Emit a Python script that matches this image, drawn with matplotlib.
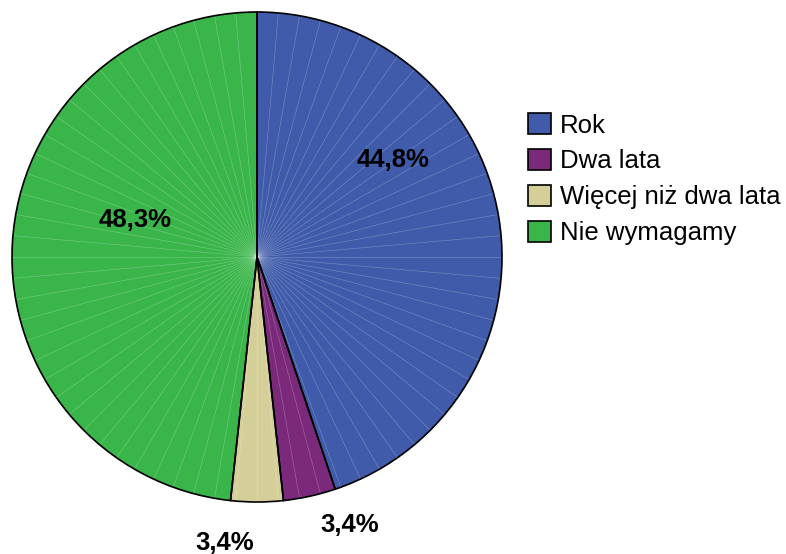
import numpy as np
import matplotlib
matplotlib.use("Agg")
import matplotlib.pyplot as plt
from matplotlib.patches import Patch

plt.rcParams['font.family'] = ['Liberation Sans', 'DejaVu Sans']

# dane
categories = ['Rok', 'Dwa lata', 'Więcej niż dwa lata', 'Nie wymagamy']
counts = [13, 1, 1, 14]
pct_labels = ['44,8%', '3,4%', '3,4%', '48,3%']
colors = ['#3F5BAA', '#7B2A7B', '#D4CE99', '#3AB54A']

fig = plt.figure(figsize=(7.86, 5.54), dpi=100)
ax = fig.add_axes([12 / 786, 52 / 554, 490 / 786, 490 / 554])

wedges, _ = ax.pie(counts, colors=colors, startangle=90, counterclock=False,
                   radius=1.0, wedgeprops=dict(edgecolor='none'))

# cienkie jasne linie promieniowe (styl SPSS)
for ang in np.arange(90, 450, 5.0):
    a = np.deg2rad(ang)
    ax.plot([0, np.cos(a)], [0, np.sin(a)], color='white', alpha=0.25, lw=0.5, zorder=3)

# obramowanie wycinków na wierzchu
outline, _ = ax.pie(counts, startangle=90, counterclock=False, radius=1.0)
for w in outline:
    w.set_facecolor('none')
    w.set_edgecolor('black')
    w.set_linewidth(1.2)
    w.set_zorder(4)

label_pos = [(0.555, 0.396), (0.38, -1.094), (-0.131, -1.167), (-0.498, 0.151)]
for txt, (x, y) in zip(pct_labels, label_pos):
    ax.text(x, y, txt, ha='center', va='center', fontsize=18.5, fontweight='bold', zorder=5)

ax.set_xlim(-1, 1)
ax.set_ylim(-1, 1)
ax.set_aspect('equal')
ax.axis('off')

handles = [Patch(facecolor=c, edgecolor='black', linewidth=1.2) for c in colors]
fig.legend(handles, categories, loc='upper left', bbox_to_anchor=(528 / 786, 1 - 113 / 554),
           frameon=False, fontsize=18.5, handlelength=0.9, handleheight=0.9,
           handletextpad=0.35, labelspacing=0.44, borderaxespad=0, borderpad=0)

plt.savefig('out.png', dpi=100)
